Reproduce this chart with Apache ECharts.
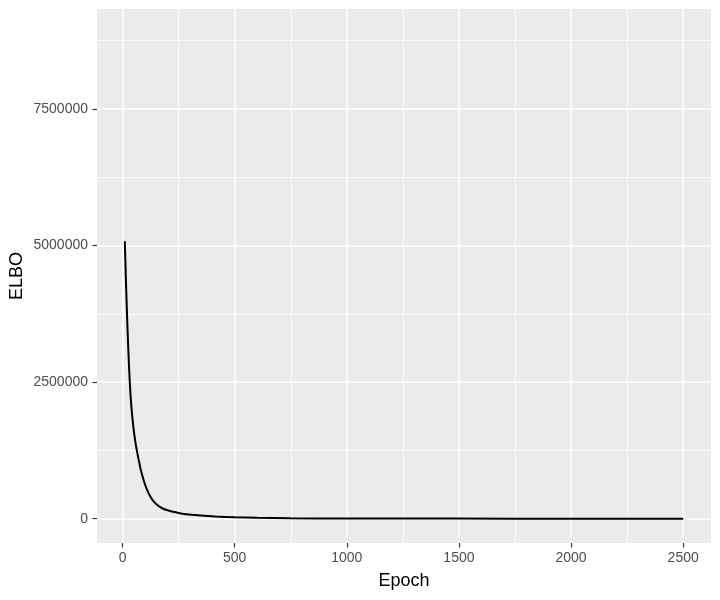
<!DOCTYPE html>
<html lang="en">
<head>
<meta charset="UTF-8">
<title>ELBO by epoch</title>
<script src="https://cdn.jsdelivr.net/npm/echarts@6/dist/echarts.min.js"></script>
<style>
  html, body { margin: 0; padding: 0; background: #fff; }
  #chart { width: 720px; height: 600px; }
</style>
</head>
<body>
<div id="chart"></div>
<script>
// values
var epochs = [10, 15, 20, 25, 30, 35, 40, 46, 53, 60, 65, 81, 95, 109, 120, 134, 150, 168, 190, 220, 255, 294, 350, 413, 500, 600, 750, 1000, 1500, 2000, 2500];
var elbo = [5080000, 4360000, 3720000, 3160000, 2680000, 2300000, 2020000, 1760000, 1520000, 1330000, 1220000, 900000, 690000, 530000, 435000, 340000, 270000, 213000, 168000, 130000, 100000, 78000, 57000, 41000, 26000, 15000, 8000, 3500, 1200, 500, 200];

var xTicks = [0, 500, 1000, 1500, 2000, 2500];
var xMinor = [250, 750, 1250, 1750, 2250];
var yTicks = [0, 2500000, 5000000, 7500000];
var yMinor = [1250000, 3750000, 6250000, 8750000];

var labelFont = 'Liberation Sans, Arial, sans-serif';

var lineData = [];
for (var i = 0; i < epochs.length; i++) {
  lineData.push([epochs[i], elbo[i]]);
}

var chart = echarts.init(document.getElementById('chart'));

var xRange = { min: -114, max: 2624 };
var yRange = { min: -445000, max: 9330000 };

// plain numbers, no thousands separator
function plain(v) { return String(v); }

var option = {
  animation: false,
  grid: {
    left: 97, right: 9, top: 9, bottom: 57,
    outerBoundsMode: 'none',
    containLabel: false,
    show: true,
    backgroundColor: '#EBEBEB',
    borderWidth: 0
  },
  xAxis: [{
    type: 'value',
    min: xRange.min, max: xRange.max,
    name: 'Epoch',
    nameLocation: 'middle',
    nameGap: 29,
    nameMoveOverlap: false,
    nameTextStyle: { color: '#000', fontSize: 18, fontFamily: labelFont },
    axisLine: { show: false, onZero: false },
    axisTick: { show: true, length: 4.5, customValues: xTicks, lineStyle: { color: '#333', width: 1.2 } },
    axisLabel: { customValues: xTicks, formatter: plain, color: '#4D4D4D', fontSize: 14, fontFamily: labelFont, margin: 8 },
    splitLine: { show: true, lineStyle: { color: '#fff', width: 1.6 } }
  }, {
    type: 'value',
    min: xRange.min, max: xRange.max,
    axisLine: { show: false, onZero: false },
    axisTick: { show: false, customValues: xMinor },
    axisLabel: { show: false },
    splitLine: { show: true, lineStyle: { color: '#fff', width: 0.8 } }
  }],
  yAxis: [{
    type: 'value',
    min: yRange.min, max: yRange.max,
    name: 'ELBO',
    nameLocation: 'middle',
    nameGap: 71,
    nameRotate: 90,
    nameMoveOverlap: false,
    nameTextStyle: { color: '#000', fontSize: 18, fontFamily: labelFont },
    axisLine: { show: false, onZero: false },
    axisTick: { show: true, length: 4.5, customValues: yTicks, lineStyle: { color: '#333', width: 1.2 } },
    axisLabel: { customValues: yTicks, formatter: plain, color: '#4D4D4D', fontSize: 14, fontFamily: labelFont, margin: 9 },
    splitLine: { show: true, lineStyle: { color: '#fff', width: 1.6 } }
  }, {
    type: 'value',
    min: yRange.min, max: yRange.max,
    axisLine: { show: false, onZero: false },
    axisTick: { show: false, customValues: yMinor },
    axisLabel: { show: false },
    splitLine: { show: true, lineStyle: { color: '#fff', width: 0.8 } }
  }],
  series: [{
    type: 'line',
    data: lineData,
    showSymbol: false,
    smooth: 0.3,
    lineStyle: { color: '#000', width: 2 },
    z: 5
  }]
};

chart.setOption(option);
</script>
</body>
</html>
